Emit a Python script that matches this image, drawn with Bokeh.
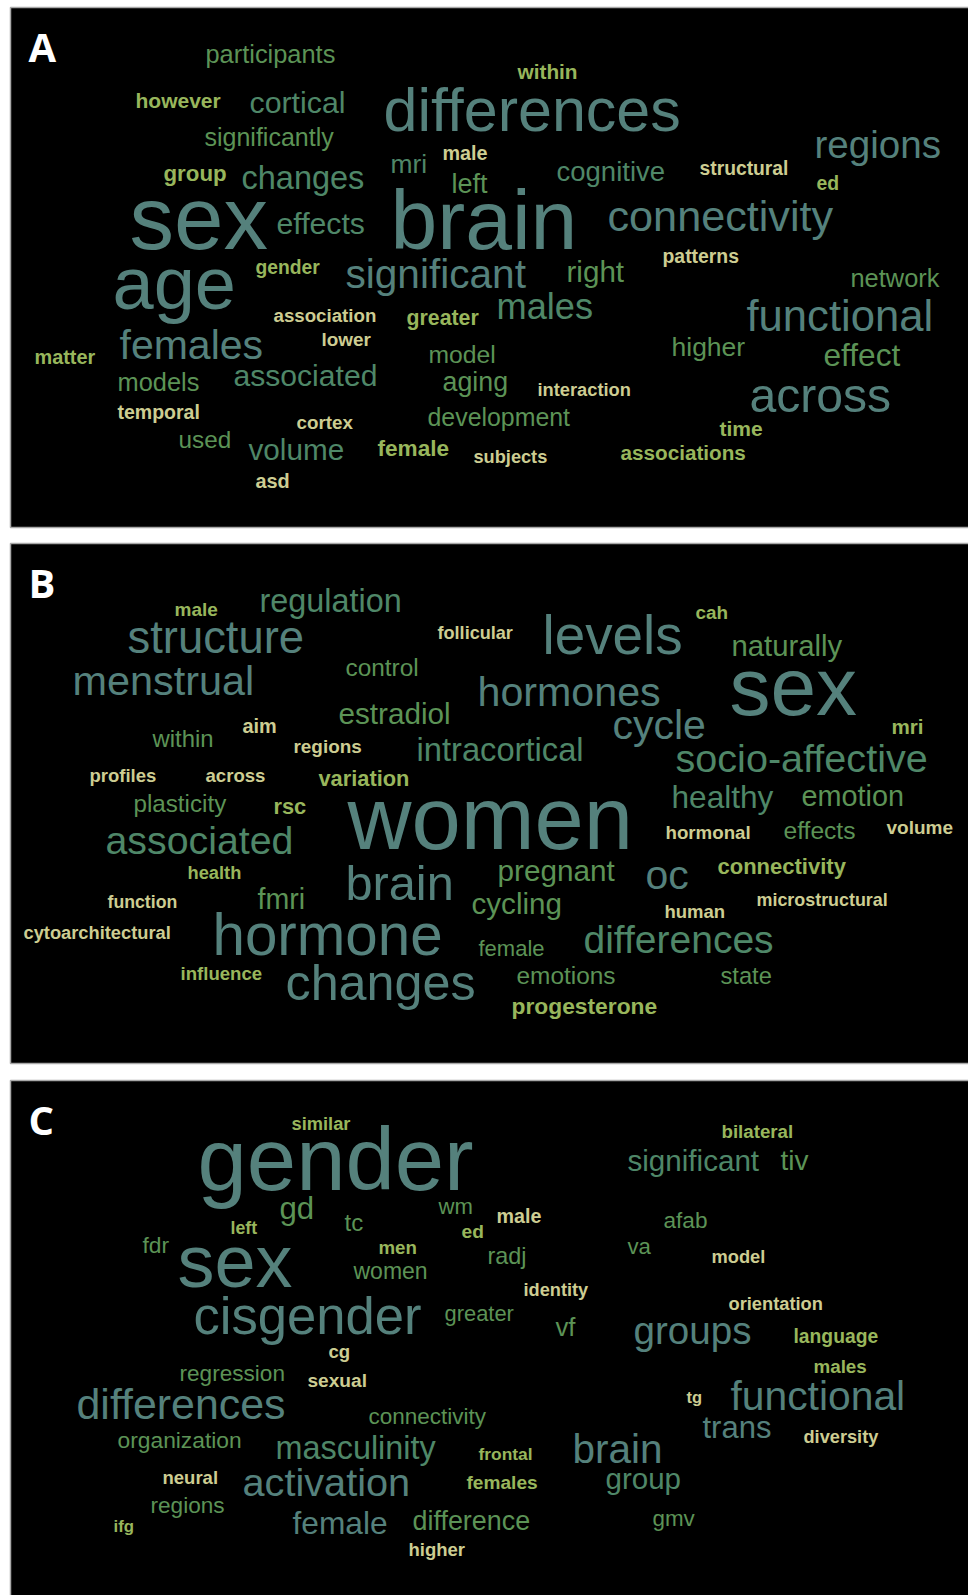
from bokeh.plotting import figure
from bokeh.models import Range1d, ColumnDataSource
from bokeh.core.properties import value
from bokeh.embed import file_html
from bokeh.resources import INLINE

# ---------------- data: words and their weights (rendered font size) ----------------
words_a = ["participants", "however", "cortical", "differences", "significantly", "mri", "male", "left",
           "group", "changes", "sex", "effects", "brain", "gender", "significant", "age", "association",
           "greater", "lower", "females", "matter", "model", "models", "associated", "aging", "temporal",
           "cortex", "development", "used", "volume", "female", "subjects", "asd", "within", "regions",
           "cognitive", "structural", "ed", "connectivity", "patterns", "right", "network", "males",
           "functional", "higher", "effect", "interaction", "across", "time", "associations"]
weights_a = [25.4, 21, 30.3, 61, 25, 26.4, 19.8, 27, 22.3, 32.5, 89, 30.2, 84, 19.3, 40.6, 74, 18.7,
             21.3, 18.9, 41, 19.9, 24.7, 25.4, 30.1, 26.8, 19.5, 18.8, 24.9, 24.3, 29.7, 22.6, 18.2, 19.9,
             20.8, 38.6, 27.5, 19.3, 19.4, 43.2, 19.4, 29.6, 25.4, 36.2, 43.6, 26.5, 31.6, 18.3, 48.1,
             21, 20.7]

words_b = ["male", "regulation", "structure", "follicular", "menstrual", "control", "estradiol", "aim",
           "within", "regions", "intracortical", "profiles", "across", "variation", "plasticity", "rsc",
           "women", "associated", "health", "brain", "function", "fmri", "cytoarchitectural", "hormone",
           "influence", "changes", "levels", "cah", "naturally", "hormones", "sex", "cycle", "mri",
           "socio-affective", "healthy", "emotion", "hormonal", "effects", "volume", "pregnant", "oc",
           "connectivity", "cycling", "human", "microstructural", "differences", "female", "emotions",
           "state", "progesterone"]
weights_b = [19, 32.4, 45.4, 18.1, 41.4, 24.4, 29.7, 19.9, 23.9, 18.9, 32.7, 18.5, 18.6, 21.8, 24.2,
             21.8, 88.6, 39.3, 18.3, 48.7, 17.7, 28.6, 18.3, 58.3, 18.6, 50.3, 54.8, 18.9, 29.3, 41.2,
             82, 41, 20.6, 39.6, 31.6, 28.8, 18.7, 24.6, 19, 29.7, 41, 22, 29.6, 18.5, 17.9, 39, 22,
             24.4, 23.7, 22.8]

words_c = ["similar", "gender", "gd", "wm", "left", "tc", "ed", "fdr", "sex", "men", "women", "cisgender",
           "greater", "cg", "regression", "sexual", "differences", "connectivity", "organization",
           "masculinity", "frontal", "neural", "activation", "females", "regions", "ifg", "female",
           "difference", "higher", "bilateral", "significant", "tiv", "male", "afab", "radj", "va",
           "model", "identity", "orientation", "vf", "groups", "language", "males", "tg", "functional",
           "trans", "diversity", "brain", "group", "gmv"]
weights_c = [18.3, 88.7, 31.2, 22.1, 17.8, 24, 19.2, 22.8, 73.9, 18.7, 23, 52.6, 21.9, 18.6, 22.6, 19.1,
             42.9, 22.5, 22.8, 32.4, 17.4, 18.5, 39.7, 19.1, 22.6, 16.8, 31.7, 26.9, 18.5, 18.7, 29.6,
             28, 19.7, 22.6, 23.4, 22.2, 18.3, 18.2, 18.3, 25.7, 38.6, 19.3, 18.8, 16.5, 40.8, 31, 18.2,
             40.5, 29.5, 22.4]

panel_labels = ["A", "B", "C"]

# ---------------- layout (left x, baseline y, relative to the panel's top-left) ----------------
PANELS = [(10, 7, 527), (10, 543, 1063), (10, 1080, 1600)]   # left, top, bottom

layout_a = [(195, 55), (125, 100), (239, 105), (373, 123), (194, 138), (380, 165), (432, 152), (441, 185),
            (153, 173), (231, 181), (119, 240), (266, 226), (380, 240), (245, 266), (335, 280), (102, 300),
            (263, 314), (396, 318), (311, 338), (109, 351), (24, 356), (418, 355), (107, 383), (223, 378),
            (432, 383), (107, 411), (286, 421), (417, 418), (168, 440), (238, 452), (367, 448), (463, 456),
            (245, 480), (507, 71), (804, 150), (546, 173), (689, 167), (806, 182), (597, 223), (652, 255),
            (556, 274), (840, 279), (486, 311), (736, 323), (661, 348), (813, 358), (527, 388), (739, 403),
            (709, 428), (610, 452)]
layout_b = [(164, 72), (249, 68), (117, 109), (427, 95), (62, 151), (335, 132), (328, 180), (232, 189),
            (142, 203), (283, 209), (406, 217), (79, 238), (195, 238), (308, 242), (123, 268), (263, 270),
            (337, 304), (95, 309), (177, 335), (335, 356), (97, 364), (247, 365), (13, 395), (202, 410),
            (170, 436), (275, 456), (532, 110), (685, 75), (721, 112), (467, 162), (719, 170), (602, 195),
            (881, 190), (665, 228), (661, 264), (791, 262), (655, 295), (773, 295), (876, 290), (487, 337),
            (635, 345), (707, 330), (461, 370), (654, 374), (746, 362), (573, 409), (468, 412), (506, 440),
            (710, 440), (501, 470)]
layout_c = [(281, 49), (187, 108), (269, 138), (428, 133), (220, 153), (334, 150), (451, 157), (132, 172),
            (167, 205), (368, 173), (343, 198), (183, 252), (434, 240), (318, 277), (169, 300), (297, 306),
            (66, 338), (358, 343), (107, 367), (265, 378), (468, 379), (152, 403), (232, 415), (456, 408),
            (140, 432), (103, 452), (282, 453), (402, 449), (398, 475), (711, 57), (617, 90), (770, 89),
            (486, 142), (653, 147), (477, 183), (617, 173), (701, 182), (513, 216), (718, 229), (545, 255),
            (623, 263), (783, 262), (803, 292), (676, 322), (720, 329), (692, 357), (793, 363), (562, 382),
            (595, 408), (642, 445)]

# ---------------- styles ----------------
tones_a = ["G2", "Y1b", "G1", "T", "G2", "G1", "Y2b", "G2", "Y1b", "G1", "T", "G1", "T", "Y1b", "T", "T",
           "Y2b", "Y1b", "Y2b", "T", "Y1b", "G2", "G2", "G1", "G2", "Y2b", "Y2b", "G2", "G2", "G1", "Y1b",
           "Y2b", "Y2b", "Y1b", "T", "G1", "Y2b", "Y1b", "T", "Y2b", "G2", "G2", "G1", "T", "G2", "G2",
           "Y2b", "T", "Y1b", "Y1b"]
tones_b = ["Y1b", "G1", "T", "Y2b", "T", "G2", "G2", "Y2b", "G2", "Y2b", "G1", "Y2b", "Y2b", "Y1b", "G2",
           "Y1b", "T", "G1", "Y1b", "T", "Y2b", "G2", "Y2b", "T", "Y1b", "T", "T", "Y1b", "G2", "T", "T",
           "T", "Y1b", "G1", "G1", "G2", "Y2b", "G2", "Y2b", "G2", "T", "Y1b", "G2", "Y2b", "Y2b", "G1",
           "G2", "G2", "G2", "Y1b"]
tones_c = ["Y1b", "T", "G2", "G2", "Y1b", "G2", "Y1b", "G2", "T", "Y1b", "G2", "T", "G2", "Y2b", "G2", "Y2b",
           "T", "G2", "G2", "G1", "Y1b", "Y2b", "T", "Y1b", "G2", "Y1b", "T", "G2", "Y2b", "Y1b", "G1", "G2",
           "Y2b", "G2", "G2", "G2", "Y2b", "Y2b", "Y2b", "G2", "T", "Y1b", "Y1b", "Y2b", "T", "T", "Y2b",
           "T", "G1", "G2"]

PALETTE = {"T": "#55817c", "G1": "#4f8768", "G2": "#5c9356", "Y1": "#98b65c", "Y2": "#cdcd92"}
FONT = "Liberation Sans"
BASE_SHIFT = 0.33   # renderer places the alphabetic baseline this many em lower

W, H = 968, 1595
p = figure(width=W, height=H, x_range=Range1d(0, W), y_range=Range1d(H, 0),
           output_backend="svg", toolbar_location=None, x_axis_type=None, y_axis_type=None,
           min_border=0, outline_line_color=None, background_fill_color="white",
           border_fill_color="white")
p.grid.visible = False

for (left, top, bottom) in PANELS:
    p.quad(left=left, right=1000, top=top, bottom=bottom, fill_color="black",
           line_color="#a8a8a8", line_width=1.5)

for (left, top, bottom), lab, words, weights, layout, tones in zip(
        PANELS, panel_labels, [words_a, words_b, words_c], [weights_a, weights_b, weights_c],
        [layout_a, layout_b, layout_c], [tones_a, tones_b, tones_c]):
    src = ColumnDataSource(dict(
        x=[left + lx for lx, ly in layout],
        y=[top + ly - BASE_SHIFT * w for (lx, ly), w in zip(layout, weights)],
        text=words,
        size=["%.1fpx" % w for w in weights],
        color=[PALETTE[t[:2]] for t in tones],
        style=["bold" if t.endswith("b") else "normal" for t in tones],
    ))
    p.text(x="x", y="y", text="text", source=src, text_font=value(FONT), text_font_size="size",
           text_color="color", text_font_style="style", text_align="left",
           text_baseline="alphabetic")
    p.text(x=[left + 18], y=[top + 52 - BASE_SHIFT * 40], text=[lab], text_font=value("Open Sans"),
           text_font_size="40px", text_font_style="bold", text_color="white",
           text_align="left", text_baseline="alphabetic")

open("out.html", "w").write(file_html(p, INLINE))
